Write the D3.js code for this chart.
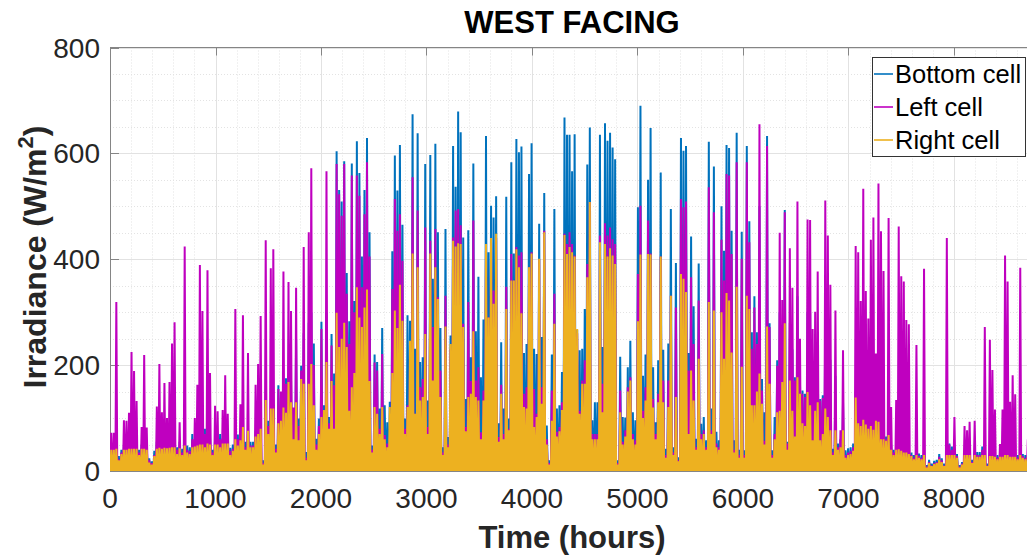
<!DOCTYPE html>
<html><head><meta charset="utf-8">
<script src="https://cdn.jsdelivr.net/npm/d3@7"></script>
<style>body{margin:0;background:#fff;} svg{display:block;font-family:"Liberation Sans",Arial,Helvetica,sans-serif;}</style>
</head><body><svg id="c" width="1027" height="555"></svg>
<script>
// Daily peak irradiance (W/m^2), one value per day of the year
const bottomCell = [
40,42,60,28,40,50,50,50,60,55, 52,40,50,60,50,24,18,38,55,60,
55,58,55,60,62,65,45,55,42,70, 48,45,70,60,62,75,72,80,75,65,
40,62,62,70,62,65,62,44,50,80, 69,70,85,55,80,55,55,75,80,90,
20,110,95,115,120,50,162,140,130,175, 180,170,110,250,99,199,260,36,280,300,
241,61,99,282,124,300,102,259,184,604, 531,509,585,374,283,581,321,623,563,405,
531,629,451,48,220,206,118,270,124,92, 131,415,596,530,616,465,99,294,284,674,
231,638,206,215,580,133,597,363,618,451, 270,45,457,64,256,614,537,679,640,441,
136,455,215,581,264,367,177,286,633,413, 501,479,519,90,243,118,518,99,583,411,
627,602,613,223,240,561,619,231,221,467, 253,525,86,20,220,495,118,124,187,668,
635,635,566,636,267,228,231,306,579,649, 96,130,130,635,234,657,624,639,611,589,
20,216,102,101,196,246,111,96,498,690, 180,220,550,648,196,92,209,564,229,42,
241,495,45,393,26,629,605,614,223,443, 311,61,392,89,102,58,622,118,575,74,
58,500,416,616,610,454,58,639,40,452, 39,614,472,262,330,262,500,174,111,633,
279,39,102,209,300,220,493,55,280,230, 177,330,170,152,146,300,300,170,190,230,
136,143,300,270,210,42,180,52,60,130, 39,43,45,52,150,120,100,110,95,90,
90,88,95,100,70,68,65,70,50,40, 45,50,45,42,40,38,35,30,35,33,
30,35,11,21,14,19,21,32,24,14, 35,52,46,35,32,11,17,35,35,35,
21,35,36,36,46,35,14,32,32,30, 30,30,30,35,35,30,30,30,30,35,
32,30,30,30,28];
const leftCell = [
72,72,319,22,35,96,95,110,225,189, 132,35,83,219,82,20,15,30,122,202,
111,166,100,168,241,281,40,92,35,424, 40,38,60,100,163,389,302,70,379,185,
35,123,113,60,115,181,108,38,42,306, 60,126,294,45,223,48,48,163,202,293,
15,436,85,383,419,42,155,150,377,165, 357,302,120,346,85,190,423,25,451,572,
200,50,85,268,110,566,90,237,162,580, 523,482,580,335,240,558,300,558,520,347,
485,583,405,40,205,190,80,221,68,52, 64,344,514,454,485,397,80,124,240,555,
108,492,158,174,460,83,435,272,457,328, 190,35,331,50,230,441,492,495,464,278,
83,319,170,473,171,196,73,152,429,290, 430,341,440,64,163,70,348,80,410,360,
423,407,413,146,158,385,413,155,108,400, 158,454,60,15,152,335,74,83,130,448,
429,451,429,407,260,114,171,209,391,508, 70,70,70,445,165,468,445,460,438,429,
15,152,55,77,158,177,70,58,372,501, 114,158,473,411,136,70,146,405,171,30,
171,331,35,309,20,514,498,509,190,366, 240,45,322,70,77,45,536,77,489,52,
45,437,360,561,558,410,40,583,30,401, 30,583,432,231,309,240,655,152,57,614,
272,30,70,199,450,323,489,52,421,346, 171,509,250,146,140,475,474,268,301,377,
133,138,511,445,352,35,303,45,77,228, 30,35,38,45,425,413,321,533,340,288,
437,479,222,543,453,378,60,478,121,35, 134,462,368,358,285,277,30,25,238,28,
25,382,8,17,10,15,17,27,20,10, 440,50,40,102,28,8,14,85,77,93,
17,95,30,30,40,272,10,248,191,116, 25,51,116,407,358,131,181,145,25,384,
28,25,60,30,35];
const rightCell = [
40,40,42,20,32,40,40,42,42,42, 42,30,42,42,40,16,12,28,42,44,
42,44,43,44,45,45,32,43,30,48, 35,32,45,46,48,50,50,45,52,50,
30,50,50,45,52,52,52,30,38,60, 48,58,83,40,76,45,45,65,70,80,
12,134,70,118,118,35,90,95,120,110, 168,130,60,130,58,174,165,20,165,202,
124,40,70,102,115,206,80,170,80,299, 234,250,280,234,114,158,185,347,290,272,
309,343,170,35,121,108,70,121,60,45, 121,185,303,270,352,284,70,121,246,411,
108,385,133,140,259,70,411,171,385,325, 140,30,273,45,240,435,424,430,429,272,
75,140,146,264,140,133,60,133,429,290, 440,316,448,55,146,60,306,77,360,360,
419,385,298,121,118,385,411,83,102,401, 127,451,50,12,95,278,65,75,115,446,
410,423,413,405,268,108,165,165,366,508, 60,60,60,432,111,429,405,421,407,391,
12,111,50,65,150,171,60,50,283,409, 100,133,410,409,120,60,130,405,130,25,
121,331,30,140,18,372,363,338,70,190, 133,40,212,60,70,40,319,70,303,45,
40,300,212,336,322,224,35,348,25,197, 25,331,306,124,124,150,184,127,50,273,
165,25,60,111,114,168,279,40,171,114, 65,177,146,90,85,149,124,58,114,130,
58,70,118,102,77,30,77,40,45,77, 25,30,32,38,139,90,85,97,88,80,
85,78,95,93,60,60,57,68,40,30, 40,41,38,35,35,32,28,22,30,25,
22,30,6,15,9,13,15,22,17,9, 30,30,30,30,25,6,12,30,30,30,
15,30,27,27,30,30,9,28,28,27, 22,27,27,30,30,27,27,27,22,30,
25,22,27,27,25];

const seriesNames = ["Bottom cell", "Left cell", "Right cell"];
const seriesColors = ["#0072BD", "#BF00BF", "#EDB120"];
const xTicks = [0, 1000, 2000, 3000, 4000, 5000, 6000, 7000, 8000];
const yTicks = [0, 200, 400, 600, 800];
const titleText = "WEST FACING";
const xLabel = "Time (hours)";

const svg = d3.select("#c");
const L = 110, T = 47.5, B = 471;
const x = d3.scaleLinear().domain([0, 8760]).range([L, L + 8.76 * 105.5]);
const y = d3.scaleLinear().domain([0, 800]).range([B, T]);
const R = x(8760);

svg.append("defs").append("clipPath").attr("id", "clip")
  .append("rect").attr("x", L).attr("y", T).attr("width", R - L).attr("height", B - T);

// minor grid
const gMinor = svg.append("g").attr("stroke", "#e3e3e3").attr("stroke-width", 1).attr("stroke-dasharray", "1,2");
d3.range(200, 8761, 200).filter(v => v % 1000 !== 0).forEach(v => {
  gMinor.append("line").attr("x1", Math.round(x(v)) + 0.5).attr("x2", Math.round(x(v)) + 0.5).attr("y1", T).attr("y2", B);
});
d3.range(50, 800, 50).filter(v => v % 200 !== 0).forEach(v => {
  gMinor.append("line").attr("y1", Math.round(y(v)) + 0.5).attr("y2", Math.round(y(v)) + 0.5).attr("x1", L).attr("x2", R);
});
// major grid
const gMajor = svg.append("g").attr("stroke", "#e2e2e2").attr("stroke-width", 1);
xTicks.forEach(v => gMajor.append("line").attr("x1", Math.round(x(v)) + 0.5).attr("x2", Math.round(x(v)) + 0.5).attr("y1", T).attr("y2", B));
yTicks.forEach(v => gMajor.append("line").attr("y1", Math.round(y(v)) + 0.5).attr("y2", Math.round(y(v)) + 0.5).attr("x1", L).attr("x2", R));

// frame and inward ticks
const axCol = "#858585";
svg.append("line").attr("x1", L).attr("x2", R).attr("y1", T).attr("y2", T).attr("stroke", axCol);
svg.append("line").attr("x1", L + 0.5).attr("x2", L + 0.5).attr("y1", T).attr("y2", B).attr("stroke", axCol);
svg.append("line").attr("x1", L).attr("x2", R).attr("y1", B + 0.5).attr("y2", B + 0.5).attr("stroke", axCol);
xTicks.forEach(v => {
  svg.append("line").attr("x1", Math.round(x(v)) + 0.5).attr("x2", Math.round(x(v)) + 0.5).attr("y1", T).attr("y2", T + 8).attr("stroke", axCol);
});
yTicks.forEach(v => {
  svg.append("line").attr("x1", L).attr("x2", L + 9).attr("y1", Math.round(y(v)) + 0.5).attr("y2", Math.round(y(v)) + 0.5).attr("stroke", axCol);
});

// data: each day rises from zero to its peak and back
const line = d3.line().x(d => x(d[0])).y(d => y(d[1]));
function dailyPoints(arr) {
  const pts = [];
  arr.forEach((v, i) => { pts.push([i * 24 + 3, 0]); pts.push([i * 24 + 12, v]); pts.push([i * 24 + 21, 0]); });
  return pts;
}
const gData = svg.append("g").attr("clip-path", "url(#clip)");
[bottomCell, leftCell, rightCell].forEach((arr, k) => {
  gData.append("path").attr("d", line(dailyPoints(arr)))
    .attr("fill", "none").attr("stroke", seriesColors[k]).attr("stroke-width", 2)
    .attr("stroke-linejoin", "bevel");
});

// tick labels
const tickCol = "#262626";
xTicks.forEach(v => svg.append("text").attr("x", x(v)).attr("y", 508).attr("text-anchor", "middle")
  .attr("font-size", 28).attr("fill", tickCol).text(v));
yTicks.forEach(v => svg.append("text").attr("x", 100).attr("y", y(v) + 10).attr("text-anchor", "end")
  .attr("font-size", 28).attr("fill", tickCol).text(v));

// title and labels
svg.append("text").attr("x", 572).attr("y", 33).attr("text-anchor", "middle").attr("font-weight", "bold")
  .attr("font-size", 31).attr("fill", "#000").text(titleText);
svg.append("text").attr("x", 572).attr("y", 548).attr("text-anchor", "middle").attr("font-weight", "bold")
  .attr("font-size", 31).attr("fill", tickCol).text(xLabel);
const yl = svg.append("text").attr("transform", "translate(46,257) rotate(-90)").attr("text-anchor", "middle")
  .attr("font-weight", "bold").attr("font-size", 32).attr("fill", tickCol);
yl.append("tspan").text("Irradiance (W/m");
yl.append("tspan").attr("dy", -13).attr("font-size", 22).text("2");
yl.append("tspan").attr("dy", 13).text(")");

// legend
const lg = svg.append("g");
lg.append("rect").attr("x", 872.5).attr("y", 57.5).attr("width", 153).attr("height", 99)
  .attr("fill", "#fff").attr("stroke", "#333").attr("stroke-width", 1);
seriesNames.forEach((n, k) => {
  const cy = 74 + k * 33;
  lg.append("line").attr("x1", 874).attr("x2", 893).attr("y1", cy).attr("y2", cy).attr("stroke", seriesColors[k]).attr("stroke-width", 1.6);
  lg.append("text").attr("x", 895).attr("y", cy + 9).attr("font-size", 25.5).attr("fill", "#000").text(n);
});
</script></body></html>
